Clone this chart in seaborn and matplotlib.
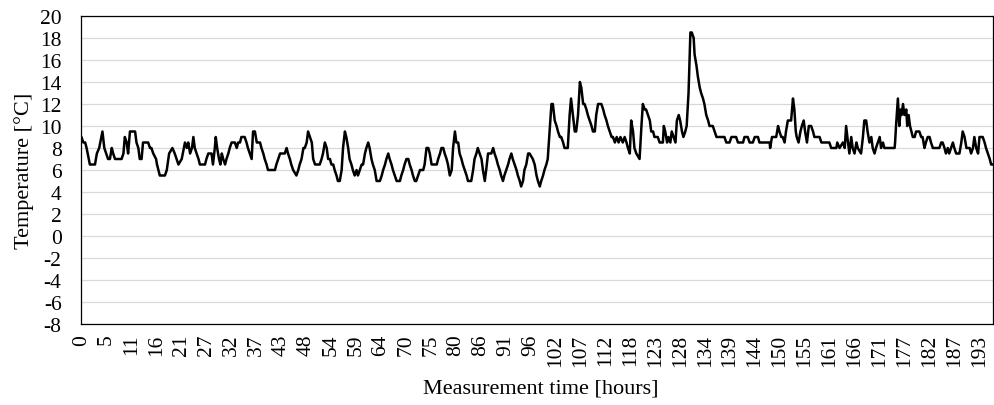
import matplotlib
matplotlib.use("Agg")
import matplotlib.pyplot as plt
import numpy as np
import pandas as pd
import seaborn as sns

hours = [
    0.0, 0.4, 0.8, 1.1, 1.8, 2.9, 3.3, 3.8, 4.5, 4.9,
    5.3, 5.7, 6.1, 6.5, 6.8, 7.2, 8.6, 9.0, 9.3, 9.7,
    10.0, 10.4, 10.8, 11.5, 11.8, 12.2, 12.5, 12.9, 13.2, 14.3,
    14.7, 15.0, 15.4, 16.0, 16.2, 16.8, 17.9, 18.3, 18.8, 19.5,
    20.0, 20.8, 21.5,
    22.2, 22.6, 22.9, 23.3, 23.7, 24.0, 24.3, 24.7, 25.1, 25.4,
    26.5, 26.8, 27.2, 27.9, 28.2, 28.6, 28.8, 29.1, 29.5, 29.8,
    30.1, 30.4, 30.8, 31.1, 31.5, 31.8, 32.2, 32.9, 33.3, 33.6,
    34.0, 34.3, 35.0, 35.4, 35.7, 36.1, 36.5, 36.8, 37.2, 37.6,
    38.3, 38.6, 39.0, 39.3, 39.7, 40.0, 41.5, 41.8, 42.2, 42.6,
    43.6, 44.0, 44.3, 44.7, 45.0, 45.4, 46.1, 46.5, 46.8,
    47.2, 47.6, 47.9, 48.3, 48.6, 49.0, 49.4, 49.7, 50.1, 51.1,
    51.5, 51.8, 52.2, 52.6, 52.9, 53.3, 53.6, 54.0, 54.3, 54.7,
    55.0, 55.4, 55.8, 56.1, 56.5, 56.8, 57.2, 57.5, 57.9, 58.2,
    58.6, 59.0, 59.3, 59.7, 60.1, 60.4, 60.8, 61.1, 61.5, 61.8,
    62.2, 62.5, 62.9, 63.3, 64.0, 64.4, 64.7, 65.1, 65.4, 65.8,
    66.1, 66.5, 66.8, 67.2, 67.6, 68.3, 68.6, 69.0, 69.3, 69.7,
    70.1, 70.4, 70.8, 71.1, 71.5, 71.8, 72.2, 72.6,
    72.9, 73.3, 73.6, 74.0, 74.4, 74.7, 75.1, 76.2, 76.5, 76.9,
    77.2, 77.6, 77.9, 78.3, 78.6, 79.0, 79.4, 79.7, 80.1, 80.4,
    80.8, 81.1, 81.5, 81.8, 82.2, 82.6, 82.9, 83.6, 84.0, 84.3,
    84.7, 85.0, 85.4, 85.8, 86.1, 86.5, 86.8, 87.2, 87.5, 87.9,
    88.3, 88.6, 89.0, 89.3, 89.7, 90.0, 90.4, 90.7, 91.1, 91.5,
    91.8, 92.2, 92.5, 92.9, 93.3, 93.6, 94.0, 94.3, 94.7, 95.0,
    95.4, 95.8, 96.1,
    96.8, 97.2, 97.6, 97.9, 98.3, 98.6, 99.0, 99.3, 99.7, 100.0,
    100.4, 100.8, 101.1, 101.5, 101.9, 102.2, 102.6, 102.9, 103.3, 103.6,
    104.3, 104.7, 105.0, 105.4, 105.8, 106.1, 106.5, 106.9, 107.2, 107.6,
    107.9, 108.3, 108.6, 109.0, 109.4, 109.7, 110.1, 110.4, 110.8, 111.5,
    111.9, 112.2, 112.6, 112.9, 113.3, 113.7, 114.0, 114.4, 114.8, 115.2,
    115.6, 116.1, 116.5, 116.9, 117.2, 117.6, 117.9, 118.3, 118.6, 119.0,
    119.7, 120.1, 120.4,
    120.8, 121.1, 121.5, 121.9, 122.2, 122.6, 122.9, 123.6, 124.0, 124.7,
    124.9, 125.2, 125.6, 125.9, 126.3, 126.6, 127.0, 127.4, 127.7, 128.1,
    128.4, 128.8, 129.1, 129.5, 129.8, 130.2, 130.6, 130.9, 131.3, 131.5,
    131.9, 132.2, 132.6, 132.9, 133.3, 133.6, 134.0, 134.4, 134.7, 135.4,
    135.8, 136.2, 137.9, 138.3, 139.0, 139.4, 140.4, 140.8, 141.9, 142.2,
    142.9, 143.3, 144.0, 144.4, 145.1, 145.4,
    147.6, 147.7, 148.1, 149.0, 149.4, 149.7, 150.1, 150.4, 150.8, 151.1,
    151.5, 152.2, 152.6, 152.9, 153.2, 153.4, 153.8, 154.2, 154.5, 154.9,
    155.2, 155.6, 156.0, 156.5, 156.9, 157.2, 158.3, 158.7, 160.4, 160.8,
    161.9, 162.1, 162.6, 163.3, 163.7, 164.0, 164.4, 164.7, 165.1, 165.4,
    165.8, 166.2, 166.5, 167.2, 167.6, 167.9, 168.3, 168.6, 169.0, 169.4,
    169.7,
    170.1, 170.4, 170.8, 171.2, 171.5, 171.9, 172.2, 174.4, 174.5, 174.7,
    175.1, 175.4, 175.7, 175.9, 176.2, 176.5, 176.9, 177.1, 177.4, 177.7,
    178.3, 178.7, 179.0, 179.7, 180.1, 180.4, 180.8, 181.1, 181.5, 181.9,
    182.2, 182.6, 184.0, 184.4, 184.7, 185.1, 185.4, 185.8, 186.1, 186.5,
    186.9, 187.2, 187.6, 188.3, 188.7, 189.0, 189.4, 189.8, 190.5, 190.8,
    191.2, 191.5, 191.9, 192.3, 192.6, 193.3, 193.7, 194.0, 194.4, 194.8,
    195.1, 195.4,
]

temp_c = [
    9.0, 8.5, 8.5, 8.0, 6.5, 6.5, 7.5, 8.0, 9.5, 8.0,
    7.5, 7.0, 7.0, 8.0, 7.5, 7.0, 7.0, 7.5, 9.0, 8.5,
    7.5, 9.5, 9.5, 9.5, 8.5, 8.0, 7.0, 7.0, 8.5, 8.5,
    8.0, 8.0, 7.5, 7.0, 6.5, 5.5, 5.5, 6.0, 7.5, 8.0,
    7.5, 6.5, 7.0,
    8.5, 8.0, 8.5, 7.5, 8.0, 9.0, 8.0, 7.5, 7.0, 6.5,
    6.5, 7.0, 7.5, 7.5, 6.5, 8.0, 9.0, 8.0, 7.0, 6.5,
    7.5, 7.0, 6.5, 7.0, 7.5, 8.0, 8.5, 8.5, 8.0, 8.5,
    8.5, 9.0, 9.0, 8.5, 8.0, 7.5, 7.0, 9.5, 9.5, 8.5,
    8.5, 8.0, 7.5, 7.0, 6.5, 6.0, 6.0, 6.5, 7.0, 7.5,
    7.5, 8.0, 7.5, 7.0, 6.5, 6.0, 5.5, 6.0, 6.5,
    7.0, 8.0, 8.0, 8.5, 9.5, 9.0, 8.5, 7.0, 6.5, 6.5,
    7.0, 7.5, 8.5, 8.0, 7.0, 7.0, 6.5, 6.5, 6.0, 5.5,
    5.0, 5.0, 6.0, 8.0, 9.5, 9.0, 8.0, 7.0, 6.5, 6.0,
    5.5, 6.0, 5.5, 6.0, 6.5, 6.5, 7.5, 8.0, 8.5, 8.0,
    7.0, 6.5, 6.0, 5.0, 5.0, 5.5, 6.0, 6.5, 7.0, 7.5,
    7.0, 6.5, 6.0, 5.5, 5.0, 5.0, 5.5, 6.0, 6.5, 7.0,
    7.0, 6.5, 6.0, 5.5, 5.0, 5.0, 5.5, 6.0,
    6.0, 6.0, 6.5, 8.0, 8.0, 7.5, 6.5, 6.5, 7.0, 7.5,
    8.0, 8.0, 7.5, 7.0, 6.5, 5.5, 6.0, 8.0, 9.5, 8.5,
    8.5, 7.5, 7.0, 6.5, 6.0, 5.5, 5.0, 5.0, 6.0, 7.0,
    7.5, 8.0, 7.5, 7.0, 6.0, 5.0, 6.0, 7.5, 7.5, 7.5,
    8.0, 7.5, 7.0, 6.5, 6.0, 5.5, 5.0, 5.5, 6.0, 6.5,
    7.0, 7.5, 7.0, 6.5, 6.0, 5.5, 5.0, 4.5, 5.0, 6.0,
    6.5, 7.5, 7.5,
    7.0, 6.5, 5.5, 5.0, 4.5, 5.0, 5.5, 6.0, 6.5, 7.0,
    9.5, 12.0, 12.0, 10.5, 10.0, 9.5, 9.0, 9.0, 8.5, 8.0,
    8.0, 11.0, 12.5, 11.0, 9.5, 9.5, 11.0, 14.0, 13.5, 12.0,
    12.0, 11.5, 11.0, 10.5, 10.0, 9.5, 9.5, 11.0, 12.0, 12.0,
    11.5, 11.0, 10.5, 10.0, 9.5, 9.0, 9.0, 8.5, 9.0, 8.5,
    9.0, 8.5, 9.0, 8.5, 8.0, 7.5, 10.5, 9.5, 8.0, 7.5,
    7.0, 10.0, 12.0,
    11.5, 11.5, 11.0, 10.5, 9.5, 9.5, 9.0, 9.0, 8.5, 8.5,
    10.0, 9.5, 8.5, 9.0, 8.5, 9.5, 9.0, 8.5, 10.5, 11.0,
    10.5, 9.5, 9.0, 9.5, 10.0, 13.0, 18.5, 18.5, 18.0, 16.5,
    15.5, 14.5, 13.5, 13.0, 12.5, 12.0, 11.0, 10.5, 10.0, 10.0,
    9.5, 9.0, 9.0, 8.5, 8.5, 9.0, 9.0, 8.5, 8.5, 9.0,
    9.0, 8.5, 8.5, 9.0, 9.0, 8.5,
    8.5, 8.0, 9.0, 9.0, 10.0, 9.5, 9.0, 9.0, 8.5, 9.5,
    10.5, 10.5, 12.5, 11.5, 9.5, 9.0, 8.5, 9.5, 10.0, 10.5,
    9.5, 8.5, 10.0, 10.0, 9.5, 9.0, 9.0, 8.5, 8.5, 8.0,
    8.0, 8.5, 8.0, 8.5, 8.0, 10.0, 8.5, 7.5, 9.0, 8.0,
    7.5, 8.5, 8.0, 7.5, 9.0, 10.5, 10.5, 9.5, 8.5, 9.0,
    8.0,
    7.5, 8.0, 8.5, 9.0, 8.0, 8.5, 8.0, 8.0, 8.5, 10.0,
    12.5, 10.0, 11.5, 11.0, 12.0, 11.0, 11.5, 10.0, 11.0, 10.0,
    9.0, 9.0, 9.5, 9.5, 9.0, 9.0, 8.0, 8.5, 9.0, 9.0,
    8.5, 8.0, 8.0, 8.5, 8.5, 8.0, 7.5, 8.0, 7.5, 8.0,
    8.5, 8.0, 7.5, 7.5, 8.5, 9.5, 9.0, 8.0, 8.0, 7.5,
    8.0, 9.0, 8.0, 7.5, 9.0, 9.0, 8.5, 8.0, 7.5, 7.0,
    6.5, 6.5,
]

x_tick_labels = ["0", "5", "11", "16", "21", "27", "32", "37", "43", "48",
                 "54", "59", "64", "70", "75", "80", "86", "91", "96", "102",
                 "107", "112", "118", "123", "128", "134", "139", "144", "150",
                 "155", "161", "166", "171", "177", "182", "187", "193"]
x_tick_step_hours = 5.351
y_ticks = list(range(-8, 21, 2))

sns.set_theme(style="white")
plt.rcParams["font.family"] = ["Liberation Serif", "DejaVu Serif"]

df = pd.DataFrame({"hours": hours, "temp": temp_c})

fig = plt.figure(figsize=(9.95, 4.06), dpi=100)
ax = fig.add_axes([81 / 995, 1 - 325 / 406, 912 / 995, 308 / 406])

sns.lineplot(data=df, x="hours", y="temp", ax=ax, color="black",
             linewidth=1.8, estimator=None, sort=False)

ax.set_xlim(-0.1, 195.5)
ax.set_ylim(-8, 20)
ax.set_yticks(y_ticks)
ax.set_yticklabels([str(v) for v in y_ticks])
ax.set_xticks([i * x_tick_step_hours for i in range(len(x_tick_labels))])
ax.set_xticklabels(x_tick_labels, rotation=90)

ax.grid(axis="y", color="#d9d9d9", linewidth=0.9)
ax.grid(axis="x", visible=False)
ax.set_axisbelow(True)
for s in ax.spines.values():
    s.set_visible(True)
    s.set_color("black")
    s.set_linewidth(0.9)

ax.tick_params(axis="both", length=0, labelsize=15.5, colors="black")
ax.tick_params(axis="y", pad=14)
ax.tick_params(axis="x", pad=7)

ax.set_xlabel("Measurement time [hours]", fontsize=16, color="black")
ax.set_ylabel("Temperature [°C]", fontsize=16, color="black")
ax.xaxis.set_label_coords(0.504, -0.178)
ax.yaxis.set_label_coords(-0.052, 0.5)

fig.savefig("out.png", dpi=100)
